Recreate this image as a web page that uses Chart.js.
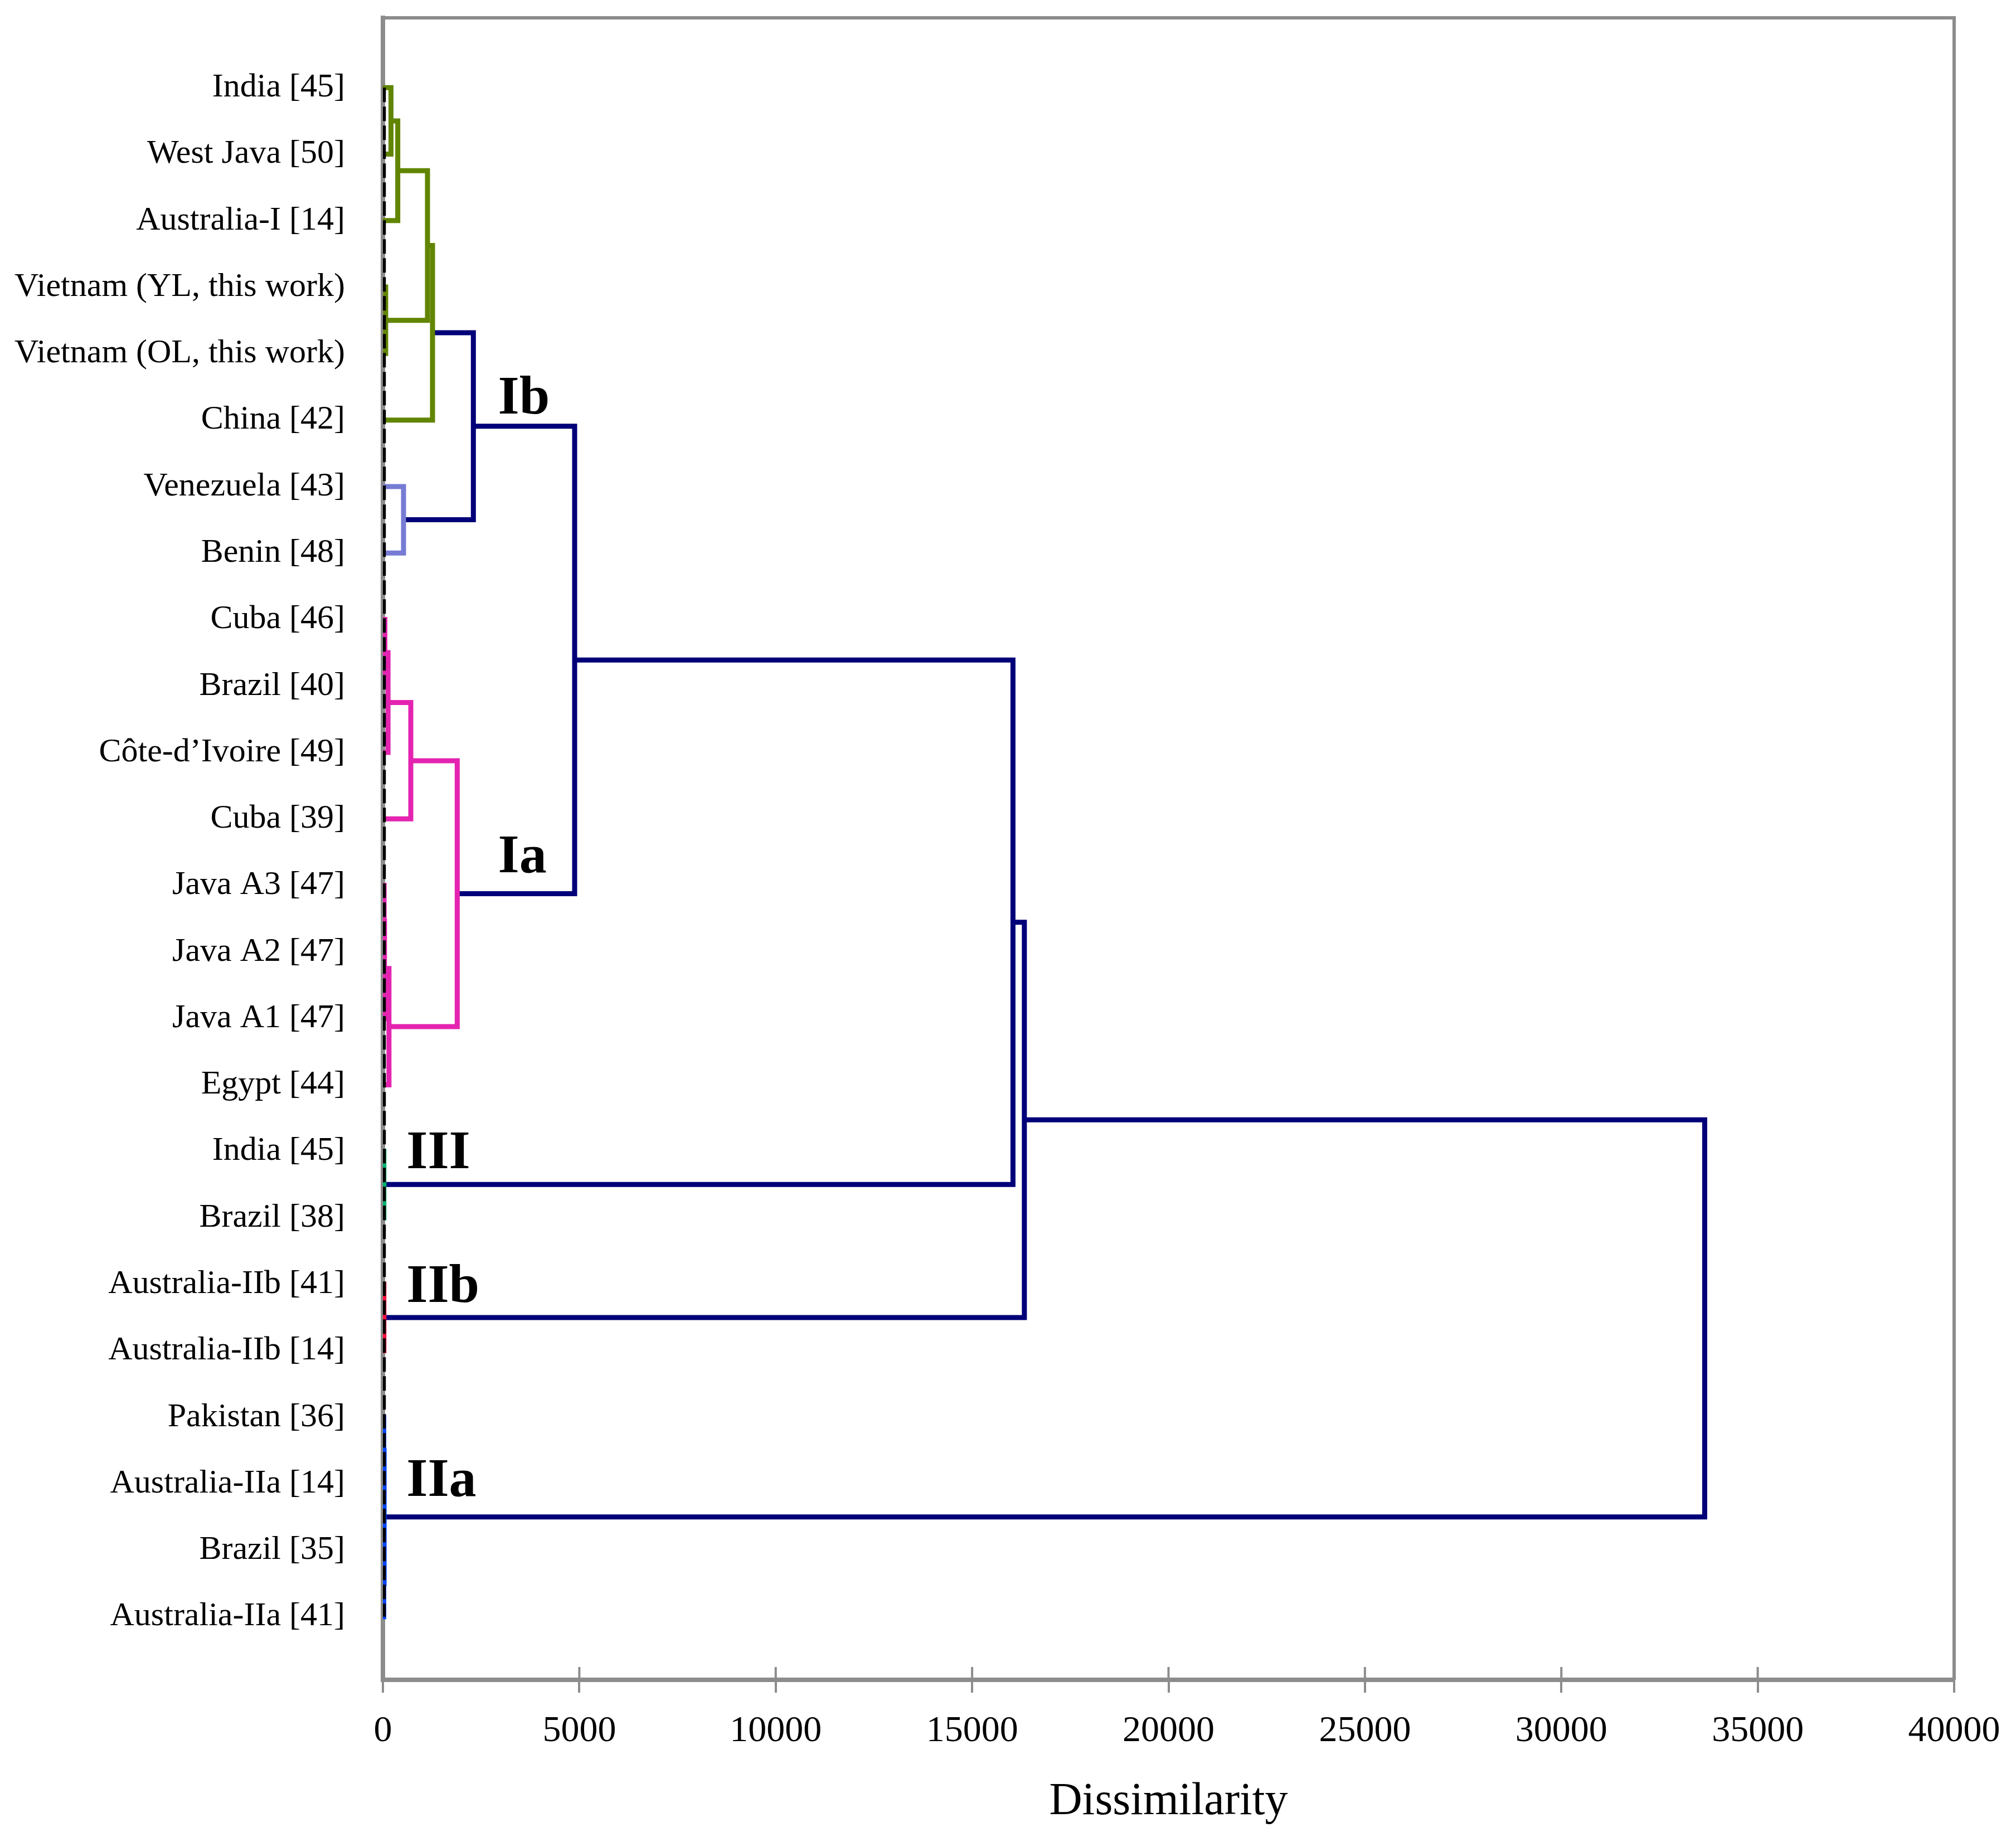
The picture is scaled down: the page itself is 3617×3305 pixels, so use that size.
<!DOCTYPE html>
<html>
<head>
<meta charset="utf-8">
<script src="https://cdn.jsdelivr.net/npm/chart.js@4.4.1/dist/chart.umd.min.js"></script>
<style>
  html, body { margin: 0; padding: 0; background: #fff; }
  #wrap { width: 3617px; height: 3305px; position: relative; }
</style>
</head>
<body>
<div id="wrap"><canvas id="dendro"></canvas></div>
<script>
// ─── DADOS ──────────────────────────────────────────────

// folhas, de cima para baixo
const leafLabels = [
  'India [45]', 'West Java [50]', 'Australia-I [14]', 'Vietnam (YL, this work)',
  'Vietnam (OL, this work)', 'China [42]', 'Venezuela [43]', 'Benin [48]',
  'Cuba [46]', 'Brazil [40]', 'Côte-d’Ivoire [49]', 'Cuba [39]',
  'Java A3 [47]', 'Java A2 [47]', 'Java A1 [47]', 'Egypt [44]',
  'India [45]', 'Brazil [38]', 'Australia-IIb [41]', 'Australia-IIb [14]',
  'Pakistan [36]', 'Australia-IIa [14]', 'Brazil [35]', 'Australia-IIa [41]'
];

// fusões: nós 0..23 são folhas, 24+ são as fusões nesta ordem
const mergeA      = [0, 24, 3, 25, 27, 6, 28, 8, 31, 32, 12, 34, 35, 33, 30, 16, 38, 18, 40, 20, 22, 43, 42];
const mergeB      = [1, 2, 4, 26, 5, 7, 29, 9, 10, 11, 13, 14, 15, 36, 37, 17, 39, 19, 41, 21, 23, 44, 45];
const mergeHeight = [205, 378, 70, 1135, 1263, 525, 2303, 50, 130, 710, 30, 40, 154, 1892, 4881, 25, 16040, 25, 16330, 20, 20, 30, 33650];
const mergeGroup  = ['Ib1', 'Ib1', 'Ib1', 'Ib1', 'Ib1', 'Ib2', 'top', 'Ia', 'Ia', 'Ia', 'Ia', 'Ia', 'Ia', 'Ia',
                     'top', 'III', 'top', 'IIb', 'top', 'IIa', 'IIa', 'IIa', 'top'];

const xTicks = [0, 5000, 10000, 15000, 20000, 25000, 30000, 35000, 40000];
const leafLevel = 25; // linha tracejada das folhas

const cladeNames = ['Ib', 'Ia', 'III', 'IIb', 'IIa'];
const cladeX     = [2930, 2930, 600, 600, 600];
const cladeY     = [4.9, 11.8, 16.25, 18.27, 21.18];

// ─── ESTILO ─────────────────────────────────────────────

const groupColors = {
  Ib1: '#618500', Ib2: '#767cd4', Ia: '#e424b0',
  III: '#00b46e', IIb: '#ff1040', IIa: '#0044ff', top: '#000078'
};
const GRAY = '#8c8c8c';
const SERIF = '"Liberation Serif", "Times New Roman", serif';

// ─── MONTAGEM ───────────────────────────────────────────

function buildDatasets() {
  const pos = leafLabels.map((_, i) => i);
  const height = leafLabels.map(() => 0);
  const sets = [];
  mergeA.forEach((a, k) => {
    const b = mergeB[k], h = mergeHeight[k];
    sets.push({
      data: [
        { x: height[a], y: pos[a] }, { x: h, y: pos[a] },
        { x: h, y: pos[b] }, { x: height[b], y: pos[b] }
      ],
      borderColor: groupColors[mergeGroup[k]],
      borderWidth: 9,
      borderJoinStyle: 'miter',
      pointRadius: 0,
      fill: false,
      tension: 0,
      order: 1
    });
    pos.push((pos[a] + pos[b]) / 2);
    height.push(h);
  });
  sets.push({
    data: [{ x: leafLevel, y: 0 }, { x: leafLevel, y: leafLabels.length - 1 }],
    borderColor: '#000',
    borderWidth: 7,
    borderDash: [26, 8],
    pointRadius: 0,
    fill: false,
    order: 0
  });
  return sets;
}

const framePlugin = {
  id: 'frame',
  beforeDatasetsDraw(chart) {
    const { ctx, chartArea: a, scales: { x } } = chart;
    ctx.save();
    ctx.strokeStyle = GRAY;
    ctx.lineWidth = 6;
    ctx.beginPath();
    ctx.moveTo(a.left, a.top);
    ctx.lineTo(a.right, a.top);
    ctx.lineTo(a.right, a.bottom);
    ctx.stroke();
    ctx.lineWidth = 4;
    ctx.beginPath();
    x.ticks.forEach(t => {
      const px = x.getPixelForValue(t.value);
      ctx.moveTo(px, a.bottom);
      ctx.lineTo(px, a.bottom - 23);
    });
    ctx.stroke();
    ctx.restore();
  }
};

const cladePlugin = {
  id: 'clades',
  afterDatasetsDraw(chart) {
    const { ctx, scales: { x, y } } = chart;
    ctx.save();
    ctx.font = 'bold 98px ' + SERIF;
    ctx.fillStyle = '#000';
    ctx.textAlign = 'left';
    ctx.textBaseline = 'alphabetic';
    cladeNames.forEach((n, i) => {
      ctx.fillText(n, x.getPixelForValue(cladeX[i]), y.getPixelForValue(cladeY[i]));
    });
    ctx.restore();
  }
};

new Chart(document.getElementById('dendro'), {
  type: 'line',
  data: { datasets: buildDatasets() },
  plugins: [framePlugin, cladePlugin],
  options: {
    responsive: true,
    maintainAspectRatio: false,
    devicePixelRatio: 1,
    animation: false,
    events: [],
    layout: { padding: { top: 32, right: 111, left: 0, bottom: 0 } },
    plugins: { legend: { display: false }, tooltip: { enabled: false } },
    scales: {
      x: {
        type: 'linear',
        min: 0,
        max: 40000,
        afterBuildTicks: s => { s.ticks = xTicks.map(v => ({ value: v })); },
        afterFit: s => { s.height = 291; s.paddingLeft = 0; s.paddingRight = 0; },
        ticks: {
          color: '#000',
          font: { family: SERIF, size: 66 },
          padding: 30,
          maxRotation: 0,
          callback: v => String(v)
        },
        grid: { display: true, drawOnChartArea: false, drawTicks: true, tickLength: 23, color: GRAY, lineWidth: 4 },
        border: { display: true, color: GRAY, width: 8 },
        title: {
          display: true,
          text: 'Dissimilarity',
          color: '#000',
          font: { family: SERIF, size: 82 },
          padding: { top: 0, bottom: 22 }
        }
      },
      y: {
        type: 'linear',
        reverse: true,
        min: -1.05,
        max: 23.95,
        afterBuildTicks: s => { s.ticks = leafLabels.map((_, i) => ({ value: i })); },
        afterFit: s => { s.width = 687; s.paddingTop = 0; s.paddingBottom = 0; },
        ticks: {
          color: '#000',
          font: { family: SERIF, size: 60 },
          padding: 60,
          autoSkip: false,
          callback: v => leafLabels[v] ?? ''
        },
        grid: { display: false },
        border: { display: true, color: GRAY, width: 8 }
      }
    }
  }
});
</script>
</body>
</html>
